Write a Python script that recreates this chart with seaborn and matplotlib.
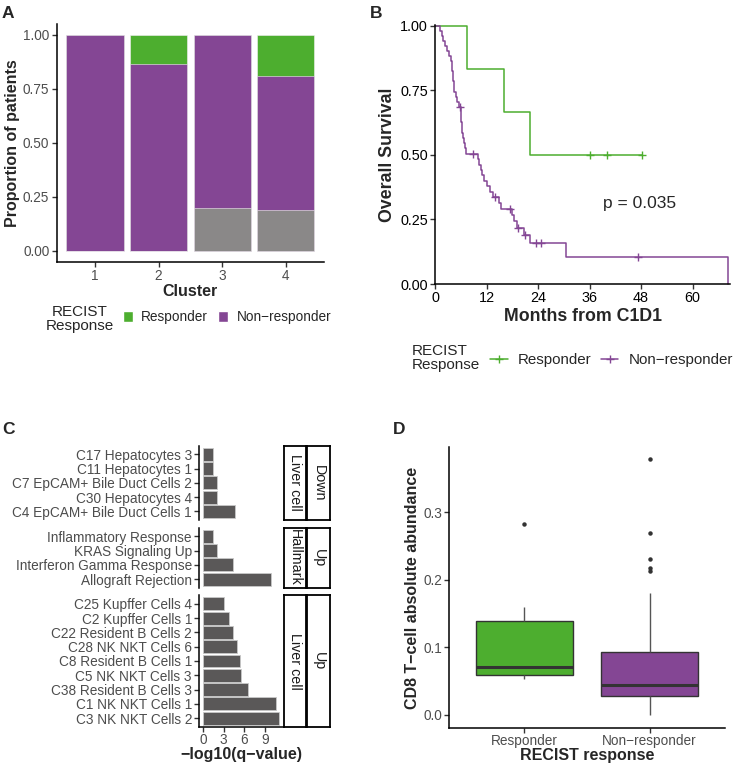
import numpy as np
import pandas as pd
import seaborn as sns
import matplotlib
matplotlib.use('Agg')
import matplotlib.pyplot as plt
from matplotlib.lines import Line2D
from matplotlib.patches import Patch

sns.set_style('ticks')
plt.rcParams['font.family'] = ['Liberation Sans', 'DejaVu Sans']

GREEN = '#4DAE2F'
PURPLE = '#844694'
GREY_NA = '#8A8888'
BAR_C = '#5A5858'
TICK_C = '#4D4D4D'

# A: patients per cluster and RECIST response
clusters = ['1', '2', '3', '4']
n_resp = [0, 2, 0, 4]
n_nonresp = [17, 13, 8, 13]
n_na = [0, 0, 2, 4]

# B: overall survival (months from C1D1), event 1 = death, 0 = censored
resp_time = [7.4, 16.1, 22.1, 36.1, 40.0, 48.3]
resp_event = [1, 1, 1, 0, 0, 0]
nonresp_time = [1.2, 1.5, 1.9, 2.3, 2.7, 3.3, 3.6, 3.9, 4.0, 4.1, 4.2, 4.3, 4.4, 4.8, 5.1, 5.5,
                5.8,
                5.9, 6.0, 6.1, 6.2, 6.3, 6.4, 6.6, 6.9, 7.2,
                8.7,
                10.0, 10.3, 10.6, 11.0, 11.3, 12.0, 12.8, 13.4,
                14.0,
                14.8, 15.4,
                17.5,
                17.9, 18.3, 19.0,
                19.4, 20.6, 21.0, 22.1, 23.5, 24.7, 30.5, 47.2, 68.2]
nonresp_event = [1] * 16 + [0] + [1] * 9 + [0] + [1] * 8 + [0] + [1] * 2 + [0] + [1] * 3 + \
                [0, 1, 0, 1, 0, 0, 1, 0, 1]
p_value = 'p = 0.035'

# C: enrichment terms
terms_1 = ['C17 Hepatocytes 3', 'C11 Hepatocytes 1', 'C7 EpCAM+ Bile Duct Cells 2',
           'C30 Hepatocytes 4', 'C4 EpCAM+ Bile Duct Cells 1']
q_1 = [1.4, 1.4, 2.0, 1.95, 4.7]
terms_2 = ['Inflammatory Response', 'KRAS Signaling Up', 'Interferon Gamma Response',
           'Allograft Rejection']
q_2 = [1.5, 2.0, 4.4, 9.9]
terms_3 = ['C25 Kupffer Cells 4', 'C2 Kupffer Cells 1', 'C22 Resident B Cells 2',
           'C28 NK NKT Cells 6', 'C8 Resident B Cells 1', 'C5 NK NKT Cells 3',
           'C38 Resident B Cells 3', 'C1 NK NKT Cells 1', 'C3 NK NKT Cells 2']
q_3 = [3.0, 3.75, 4.4, 4.9, 5.3, 5.55, 6.5, 10.6, 11.1]
strip_inner = ['Liver cell', 'Hallmark', 'Liver cell']
strip_outer = ['Down', 'Up', 'Up']

# D: CD8 T-cell abundance
cd8_resp = [0.053, 0.0571, 0.0646, 0.0784, 0.160, 0.283]
cd8_nonresp = [0.000, 0.008, 0.012, 0.015, 0.018, 0.020, 0.022, 0.024, 0.025, 0.027, 0.0286,
               0.030, 0.031, 0.033, 0.034, 0.036, 0.037, 0.039, 0.040, 0.042, 0.044,
               0.047, 0.050, 0.053, 0.057, 0.061, 0.066, 0.071, 0.078, 0.085, 0.093,
               0.101, 0.112, 0.124, 0.150, 0.180,
               0.2135, 0.217, 0.231, 0.269, 0.379]

W, H = 745, 765
fig = plt.figure(figsize=(W / 100, H / 100), dpi=100)


def add_ax(l, t, r, b):
    return fig.add_axes([l / W, 1 - b / H, (r - l) / W, (b - t) / H])


def style_ax(ax, color=TICK_C, size=9.5):
    for s in ['top', 'right']:
        ax.spines[s].set_visible(False)
    for s in ['left', 'bottom']:
        ax.spines[s].set_linewidth(1.1)
        ax.spines[s].set_color('black')
    ax.tick_params(length=3.3, width=1.0, color='#333333', labelcolor=color,
                   labelsize=size, pad=2.0)


# ---------- A ----------
axA = add_ax(56.7, 24.2, 324, 261.5)
dfA = pd.DataFrame({'cluster': clusters, 'resp': n_resp, 'nonresp': n_nonresp, 'na': n_na})
tot = dfA[['resp', 'nonresp', 'na']].sum(axis=1)
dfA['top'] = (dfA.resp + dfA.nonresp + dfA.na) / tot
dfA['mid'] = (dfA.nonresp + dfA.na) / tot
dfA['low'] = dfA.na / tot
for col, c in [('top', GREEN), ('mid', PURPLE), ('low', GREY_NA)]:
    sns.barplot(data=dfA, x='cluster', y=col, color=c, saturation=1, width=0.9,
                errorbar=None, edgecolor='#F4EEF5', linewidth=0.4, ax=axA)
axA.set_ylim(-0.05, 1.05)
axA.set_xlim(-0.6, 3.6)
axA.set_yticks([0, 0.25, 0.5, 0.75, 1.0])
axA.set_yticklabels(['0.00', '0.25', '0.50', '0.75', '1.00'])
style_ax(axA, size=9.8)
axA.set_xlabel('Cluster', fontsize=11.5, fontweight='bold', labelpad=1)
axA.set_ylabel('Proportion of patients', fontsize=11.5, fontweight='bold', labelpad=2)

fig.text(79.5 / W, 1 - 319 / H, 'RECIST\nResponse', ha='center', va='center',
         fontsize=11, linespacing=1.0)
fig.legend(handles=[Patch(facecolor=GREEN), Patch(facecolor=PURPLE)],
           labels=['Responder', 'Non\u2212responder'], loc='center left',
           bbox_to_anchor=(123 / W, 1 - 317 / H), ncol=2, frameon=False, fontsize=9.8,
           handlelength=0.7, handleheight=0.85, handletextpad=0.65, columnspacing=0.75,
           borderpad=0, borderaxespad=0)


# ---------- B ----------
def km_steps(times, events):
    t = np.asarray(times, float)
    e = np.asarray(events, int)
    xs, ys = [0.0], [1.0]
    s = 1.0
    for ut in np.unique(t):
        at_risk = (t >= ut).sum()
        d = ((t == ut) & (e == 1)).sum()
        if d:
            s *= 1 - d / at_risk
            xs.append(ut)
            ys.append(s)
    xs.append(t.max())
    ys.append(s)
    cens_t = t[e == 0]
    cens_s = [ys[np.searchsorted(xs, ct, side='right') - 1] for ct in cens_t]
    return xs, ys, cens_t, cens_s


axB = add_ax(435.3, 25, 730.3, 284)
for times, events, c in [(resp_time, resp_event, GREEN), (nonresp_time, nonresp_event, PURPLE)]:
    xs, ys, ct, cs = km_steps(times, events)
    sns.lineplot(x=xs, y=ys, drawstyle='steps-post', estimator=None, sort=False,
                 color=c, linewidth=1.1, ax=axB, clip_on=False)
    sns.scatterplot(x=ct, y=cs, marker='+', s=30, color=c, linewidth=1.0, ax=axB,
                    zorder=3, clip_on=False)
axB.set_xlim(0, 68.8)
axB.set_ylim(0, 1.003)
axB.set_xticks([0, 12, 24, 36, 48, 60])
axB.set_yticks([0, 0.25, 0.5, 0.75, 1.0])
axB.set_yticklabels(['0.00', '0.25', '0.50', '0.75', '1.00'])
style_ax(axB, color='black', size=10.4)
axB.text(39.2, 0.31, p_value, fontsize=12.5, ha='left', va='center')
axB.set_xlabel('Months from C1D1', fontsize=12.8, fontweight='bold', labelpad=2)
axB.set_ylabel('Overall Survival', fontsize=12.8, fontweight='bold', labelpad=3)

fig.text(412 / W, 1 - 358 / H, 'RECIST\nResponse', ha='left', va='center',
         fontsize=11, linespacing=1.05)
fig.legend(handles=[Line2D([0], [0], color=GREEN, lw=1.1, marker='+', markersize=6),
                    Line2D([0], [0], color=PURPLE, lw=1.1, marker='+', markersize=6)],
           labels=['Responder', 'Non\u2212responder'], loc='center left',
           bbox_to_anchor=(490 / W, 1 - 360 / H), ncol=2, frameon=False, fontsize=10.9,
           handlelength=1.17, handletextpad=0.66, columnspacing=0.62,
           borderpad=0, borderaxespad=0)

# ---------- C ----------
panels = [(445.7, 520), (527.7, 587.7), (595.3, 726.7)]
groups = [(terms_1, q_1), (terms_2, q_2), (terms_3, q_3)]
qmax = max(max(q_1), max(q_2), max(q_3))
for i, ((t, b), (terms, vals)) in enumerate(zip(panels, groups)):
    ax = add_ax(199.3, t, 283.3, b)
    dfC = pd.DataFrame({'term': terms, 'value': vals})
    sns.barplot(data=dfC, x='value', y='term', orient='h', color=BAR_C, saturation=1,
                width=0.9, errorbar=None, edgecolor='#C8C8C8', linewidth=0.6, ax=ax)
    ax.set_xlim(-0.05 * qmax, 1.05 * qmax)
    ax.set_ylim(len(terms) - 0.4, -0.6)
    style_ax(ax, size=9.8)
    ax.set_ylabel('')
    if i < 2:
        ax.spines['bottom'].set_visible(False)
        ax.set_xticks([])
        ax.set_xlabel('')
    else:
        ax.set_xticks([0, 3, 6, 9])
        ax.tick_params(axis='x', pad=1.0)
        ax.set_xlabel('\u2212log10(q\u2212value)', fontsize=11.5, fontweight='bold', labelpad=0)
    for (l, r), txt in [((284.3, 306), strip_inner[i]), ((307.3, 330), strip_outer[i])]:
        s = add_ax(l, t, r, b)
        s.set_xticks([])
        s.set_yticks([])
        s.set_facecolor('white')
        for sp in s.spines.values():
            sp.set_visible(True)
            sp.set_linewidth(1.3)
            sp.set_color('black')
        s.text(0.5, 0.5, txt, rotation=-90, ha='center', va='center', fontsize=10.3,
               color='#1A1A1A', transform=s.transAxes)

# ---------- D ----------
axD = add_ax(449.3, 446.7, 724.7, 728.3)
dfD = pd.DataFrame({'group': ['Responder'] * len(cd8_resp) + ['Non\u2212responder'] * len(cd8_nonresp),
                    'value': cd8_resp + cd8_nonresp})
sns.boxplot(data=dfD, x='group', y='value', hue='group',
            palette={'Responder': GREEN, 'Non\u2212responder': PURPLE}, saturation=1,
            width=0.78, linecolor='#333333', linewidth=1.0, fliersize=2.2, showcaps=False,
            whiskerprops=dict(color='#555555'),
            flierprops=dict(marker='o', markerfacecolor='#333333', markeredgecolor='#333333'),
            medianprops=dict(linewidth=2.2, color='#333333'), legend=False, ax=axD)
axD.set_ylim(-0.0197, 0.397)
axD.set_xlim(-0.6, 1.6)
axD.set_yticks([0, 0.1, 0.2, 0.3])
axD.set_yticklabels(['0.0', '0.1', '0.2', '0.3'])
style_ax(axD, size=9.8)
axD.tick_params(axis='x', pad=1.0)
axD.set_xlabel('RECIST response', fontsize=11.5, fontweight='bold', labelpad=0)
axD.set_ylabel('CD8 T\u2212cell absolute abundance', fontsize=11.5, fontweight='bold', labelpad=2)

# panel letters
for x, y, lab in [(2, 13, 'A'), (370, 13, 'B'), (2, 429, 'C'), (393, 429, 'D')]:
    fig.text(x / W, 1 - y / H, lab, fontsize=12.5, fontweight='bold', ha='left', va='center')

fig.savefig('out.png', dpi=100)
